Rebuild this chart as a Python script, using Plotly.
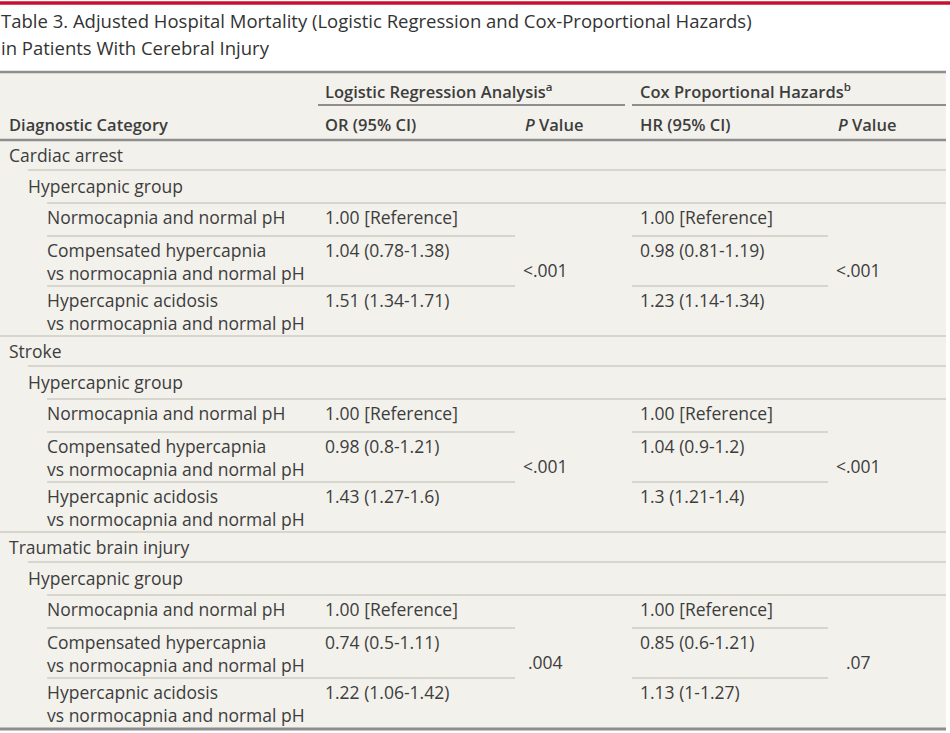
import plotly.graph_objects as go

# ---- data ----
TITLE_LINES = [
    "Table 3. Adjusted Hospital Mortality (Logistic Regression and Cox-Proportional Hazards)",
    "in Patients With Cerebral Injury",
]
HEADER_GROUPS = ["Logistic Regression Analysis<sup>a</sup>", "Cox Proportional Hazards<sup>b</sup>"]
HEADER_COLS = ["Diagnostic Category", "OR (95% CI)", "<i>P</i> Value", "HR (95% CI)", "<i>P</i> Value"]

CATEGORIES = ["Cardiac arrest", "Stroke", "Traumatic brain injury"]
GROUP_LABEL = "Hypercapnic group"
ROW_LABELS = [
    "Normocapnia and normal pH",
    "Compensated hypercapnia<br>vs normocapnia and normal pH",
    "Hypercapnic acidosis<br>vs normocapnia and normal pH",
]
OR_CI = [
    ["1.00 [Reference]", "1.04 (0.78-1.38)", "1.51 (1.34-1.71)"],
    ["1.00 [Reference]", "0.98 (0.8-1.21)", "1.43 (1.27-1.6)"],
    ["1.00 [Reference]", "0.74 (0.5-1.11)", "1.22 (1.06-1.42)"],
]
OR_P = ["<.001", "<.001", ".004"]
HR_CI = [
    ["1.00 [Reference]", "0.98 (0.81-1.19)", "1.23 (1.14-1.34)"],
    ["1.00 [Reference]", "1.04 (0.9-1.2)", "1.3 (1.21-1.4)"],
    ["1.00 [Reference]", "0.85 (0.6-1.21)", "1.13 (1-1.27)"],
]
HR_P = ["<.001", "<.001", ".07"]

# ---- layout constants (page pixels) ----
W, H = 950, 733
FONT = "Open Sans"
TXT = "#3d3d3d"
BG = "#f2f1ec"
RULE = "#8e8e8e"
THIN = "#cdccc4"
RIGHT = 946
X_CAT, X_GRP, X_ROW = 8, 28, 47
X_OR, X_ORP, X_HR, X_HRP = 325, 545, 640, 858
OR_COL = (47, 515)
HR_COL = (632, 828)
ROW_H = [30, 33, 33, 50, 50]
TOP = 140
BODY = 17.5

fig = go.Figure()
shapes = []
notes = []


def line(x0, x1, y, color, width):
    shapes.append(dict(type="line", x0=x0, x1=x1, y0=y, y1=y, xref="x", yref="y",
                       line=dict(color=color, width=width)))


def text(x, y, s, size=BODY, anchor="left", weight=400, color=TXT):
    notes.append(dict(x=x, y=y, text=s, showarrow=False, xanchor=anchor,
                      yanchor="middle", align="left", xref="x", yref="y",
                      xshift=-2 if anchor == "left" else 0,
                      font=dict(family=FONT, size=size, color=color, weight=weight)))


# background
shapes.append(dict(type="rect", x0=0, x1=RIGHT, y0=72, y1=729, xref="x", yref="y",
                   fillcolor=BG, line=dict(width=0), layer="below"))
line(0, W, 3, "#c8102e", 3.5)

# title
for i, t in enumerate(TITLE_LINES):
    text(1, 20 + 27 * i, t, size=18.5, weight=500, color="#333")

# header
line(0, RIGHT, 72, RULE, 2.5)
text(X_OR, 91, HEADER_GROUPS[0], size=16.5, weight=600)
text(X_HR, 91, HEADER_GROUPS[1], size=16.5, weight=600)
line(318, 625, 105, RULE, 2)
line(632, RIGHT, 105, RULE, 2)
for x, s in zip([X_CAT + 1, X_OR, 525, X_HR, 838], HEADER_COLS):
    text(x, 124, s, size=16.5, weight=600)
line(0, RIGHT, 140, RULE, 2.5)

# body
top = TOP
for k, cat in enumerate(CATEGORIES):
    y = top
    text(X_CAT + 1, y + 15, cat)
    y += ROW_H[0]
    line(X_GRP, RIGHT, y, THIN, 1.5)
    text(X_GRP, y + 16, GROUP_LABEL)
    y += ROW_H[1]
    line(X_ROW, RIGHT, y, THIN, 1.5)
    merged_top = y
    for j, lab in enumerate(ROW_LABELS):
        h = ROW_H[2 + j]
        if j > 0:
            line(*OR_COL, y, THIN, 1.5)
            line(*HR_COL, y, THIN, 1.5)
        text(X_ROW, y + (25 if "<br>" in lab else 14), lab)
        text(X_OR, y + 14, OR_CI[k][j])
        text(X_HR, y + 14, HR_CI[k][j])
        y += h
    mid = (merged_top + y) / 2
    text(X_ORP, mid, OR_P[k].replace("<", "&lt;"), anchor="center")
    text(X_HRP, mid, HR_P[k].replace("<", "&lt;"), anchor="center")
    if k < len(CATEGORIES) - 1:
        line(0, RIGHT, y, THIN, 1.5)
    top = y
line(0, RIGHT, top + 1, RULE, 3)

fig.update_layout(
    width=W, height=H,
    margin=dict(l=0, r=0, t=0, b=0),
    paper_bgcolor="white", plot_bgcolor="white",
    xaxis=dict(range=[0, W], visible=False, fixedrange=True),
    yaxis=dict(range=[H, 0], visible=False, fixedrange=True),
    shapes=shapes, annotations=notes, showlegend=False,
)
# drop the default 8px page margin so the figure fills the window
fig.write_html("out.html", config=dict(displayModeBar=False),
               post_script="document.body.style.margin='0';document.body.style.overflow='hidden';")
